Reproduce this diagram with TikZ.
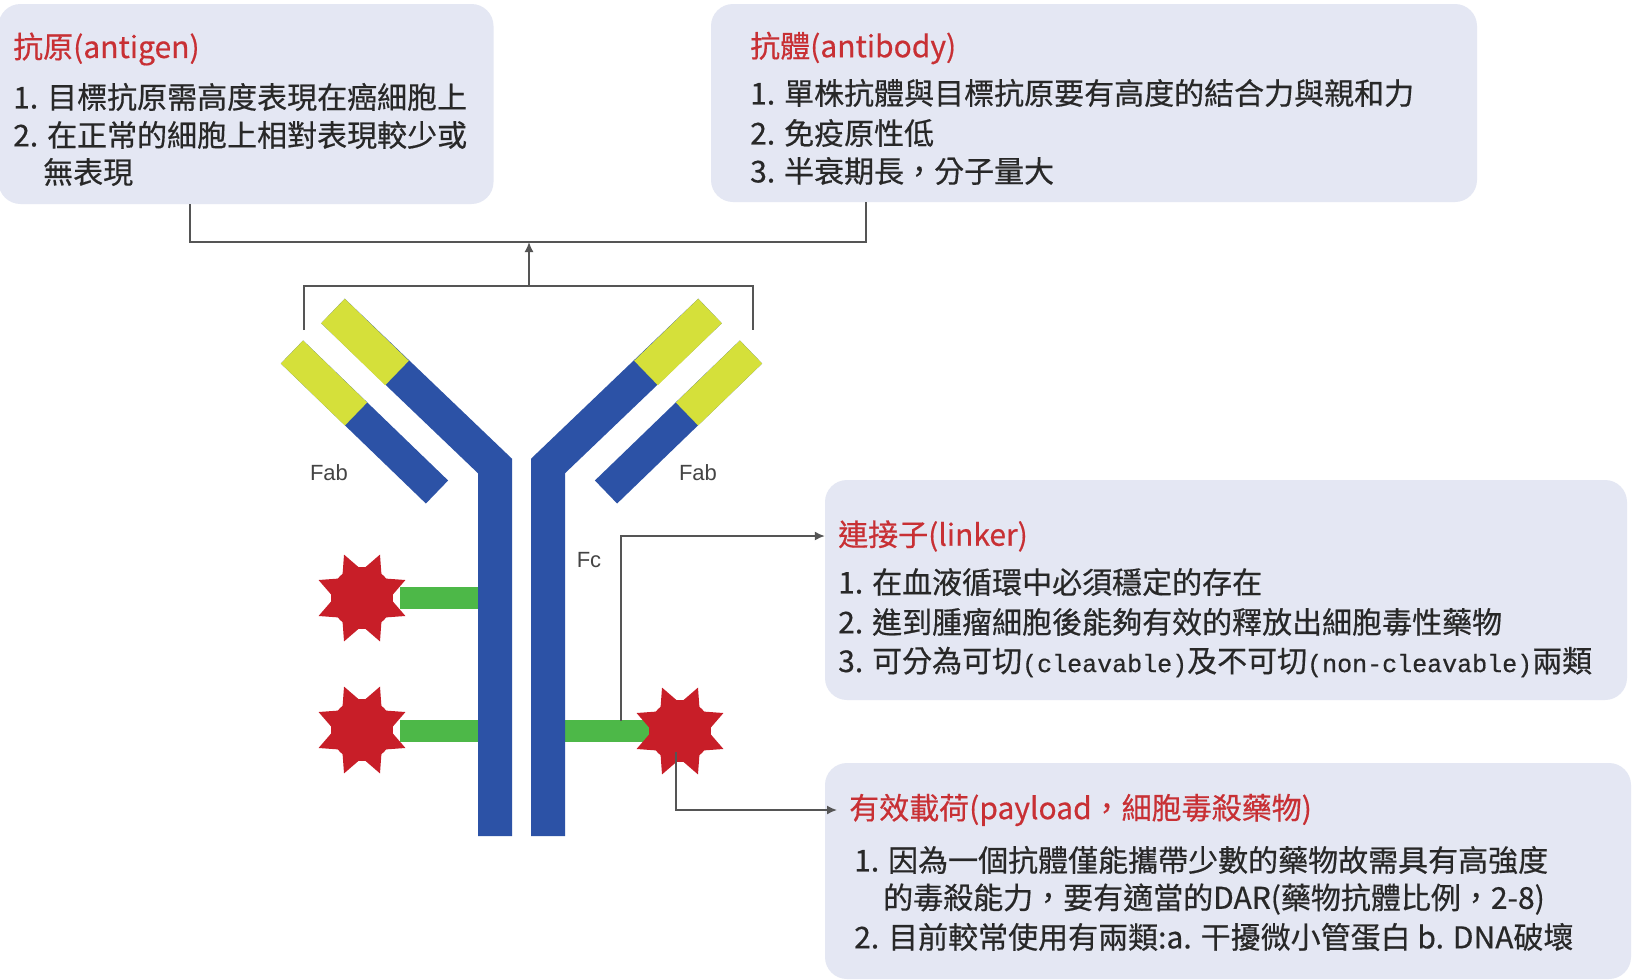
\documentclass[tikz,border=0pt]{standalone}
\usepackage{fontspec}
\setmainfont{Noto Sans CJK TC}
\newfontfamily\bodyfont{Noto Sans CJK TC}[FakeBold=0.5]
\newfontfamily\labelfont{Liberation Sans}
\newfontfamily\halfwidth{Liberation Mono}[FakeBold=0.5]
\usetikzlibrary{calc,arrows.meta}
\definecolor{boxfill}{RGB}{228,231,243}
\definecolor{abblue}{RGB}{44,82,166}
\definecolor{abyellow}{RGB}{213,224,58}
\definecolor{linkgreen}{RGB}{77,184,72}
\definecolor{drugred}{RGB}{200,30,40}
\definecolor{titlered}{RGB}{200,48,52}
\definecolor{bodytext}{RGB}{40,40,40}
\definecolor{wirecol}{RGB}{85,85,85}
\definecolor{labelcol}{RGB}{68,68,68}

\begin{document}
\begin{tikzpicture}[x=1pt,y=-1pt,
  infobox/.style={fill=boxfill, rounded corners=22pt, inner sep=0pt, draw=none},
  boxtitle/.style={anchor=west, inner sep=0pt, text=titlered, font=\bodyfont\fontsize{30pt}{36pt}\selectfont},
  boxline/.style={anchor=west, inner sep=0pt, text=bodytext, font=\bodyfont\fontsize{30pt}{36pt}\selectfont},
  partlabel/.style={inner sep=0pt, text=labelcol, font=\labelfont\fontsize{22pt}{26pt}\selectfont},
  heavychain/.style={line width=34pt, draw=abblue, line join=miter},
  lightchain/.style={line width=32pt, draw=abblue},
  heavytip/.style={line width=34pt, draw=abyellow},
  lighttip/.style={line width=32pt, draw=abyellow},
  linkbar/.style={line width=22pt, draw=linkgreen},
  drugcore/.style={circle, minimum size=62pt, inner sep=0pt, fill=drugred},
  drugspike/.style={fill=drugred},
  wire/.style={draw=wirecol, line width=1.6pt},
  wirearrow/.style={wire, -{Latex[length=10pt,width=9pt]}}
]
\useasboundingbox (0,0) rectangle (1639,980);
\fill[white] (0,0) rectangle (1639,980);

% ---------- information boxes ----------
\node[infobox, minimum width=495pt, minimum height=200pt] (ag) at (246,104) {};
\node[infobox, minimum width=766pt, minimum height=198pt] (ab) at (1094,103) {};
\node[infobox, minimum width=802pt, minimum height=220pt] (lkbox) at (1226,590) {};
\node[infobox, minimum width=806pt, minimum height=216pt] (plbox) at (1228,871) {};

% antigen
\node[boxtitle] (agt) at (13,49) {抗原(antigen)};
\node[boxline] (ag1) at (13,97) {1. 目標抗原需高度表現在癌細胞上};
\node[boxline] (ag2) at (13,135) {2. 在正常的細胞上相對表現較少或};
\node[boxline] (ag3) at (43,172) {無表現};

% antibody
\node[boxtitle] (abt) at (750,48) {抗體(antibody)};
\node[boxline] (ab1) at (750,93) {1. 單株抗體與目標抗原要有高度的結合力與親和力};
\node[boxline] (ab2) at (750,133) {2. 免疫原性低};
\node[boxline] (ab3) at (750,171) {3. 半衰期長，分子量大};

% linker
\node[boxtitle] (lkt) at (838,536) {連接子(linker)};
\node[boxline] (lk1) at (838,582) {1. 在血液循環中必須穩定的存在};
\node[boxline] (lk2) at (838,622) {2. 進到腫瘤細胞後能夠有效的釋放出細胞毒性藥物};
\node[boxline] (lk3) at (838,662) {3. 可分為可切{\halfwidth\fontsize{25pt}{30pt}\selectfont(cleavable)}及不可切{\halfwidth\fontsize{25pt}{30pt}\selectfont(non-cleavable)}兩類};

% payload
\node[boxtitle] (plt) at (849,810) {有效載荷(payload，細胞毒殺藥物)};
\node[boxline] (pl1) at (854,860) {1. 因為一個抗體僅能攜帶少數的藥物故需具有高強度};
\node[boxline] (pl1b) at (883,899) {的毒殺能力，要有適當的DAR(藥物抗體比例，2-8)};
\node[boxline] (pl2) at (854,937) {2. 目前較常使用有兩類:a. 干擾微小管蛋白 b. DNA破壞};

% ---------- linkers (green bars) ----------
\draw[linkbar] (400,598) -- (480,598);
\draw[linkbar] (400,731) -- (480,731);
\draw[linkbar] (563,731) -- (650,731);

% ---------- antibody ----------
% left heavy and light chains
\draw[heavychain] (333,311) -- (495,466) -- (495,836);
\draw[heavytip] (333,311) -- (397,373);
\draw[lightchain] (292,352) -- (437,492);
\draw[lighttip] (292,352) -- (356,414);
% right heavy and light chains
\draw[heavychain] (710,311) -- (548,466) -- (548,836);
\draw[heavytip] (710,311) -- (646,373);
\draw[lightchain] (751,352) -- (606,492);
\draw[lighttip] (751,352) -- (687,414);

\node[partlabel] (fabl) at (329,473) {Fab};
\node[partlabel] (fabr) at (698,473) {Fab};
\node[partlabel] (fc) at (589,560) {Fc};

% ---------- payload drugs: round core with eight spikes ----------
\node[drugcore] (d1) at (362,598) {};
\node[drugcore] (d2) at (362,730) {};
\node[drugcore] (d3) at (680,731) {};
\foreach \d in {d1,d2,d3}
  \foreach \a in {22.5,67.5,...,337.5}
    \fill[drugspike] ($(\d.center)+(\a:47)$) -- ($(\d.center)+(\a+20:29)$)
      -- ($(\d.center)+(\a-20:29)$) -- cycle;

% ---------- connectors ----------
\coordinate (agfoot) at (190,204);
\coordinate (abfoot) at (866,202);
\coordinate (bar) at (529,242);
\coordinate (stem) at (529,286);
\coordinate (fabL) at (304,330);
\coordinate (fabR) at (753,330);
\draw[wire] (agfoot) |- (bar) -| (abfoot);
\draw[wire] (fabL) |- (stem) -| (fabR);
\draw[wirearrow] (stem) -- (bar);

\coordinate (lkfoot) at (621,721);
\draw[wirearrow] (lkfoot) |- (lkbox.west |- lkt.west);

\coordinate (plfoot) at (676,752);
\draw[wirearrow] (plfoot) |- ([xshift=-12pt]plt.west);
\end{tikzpicture}
\end{document}
